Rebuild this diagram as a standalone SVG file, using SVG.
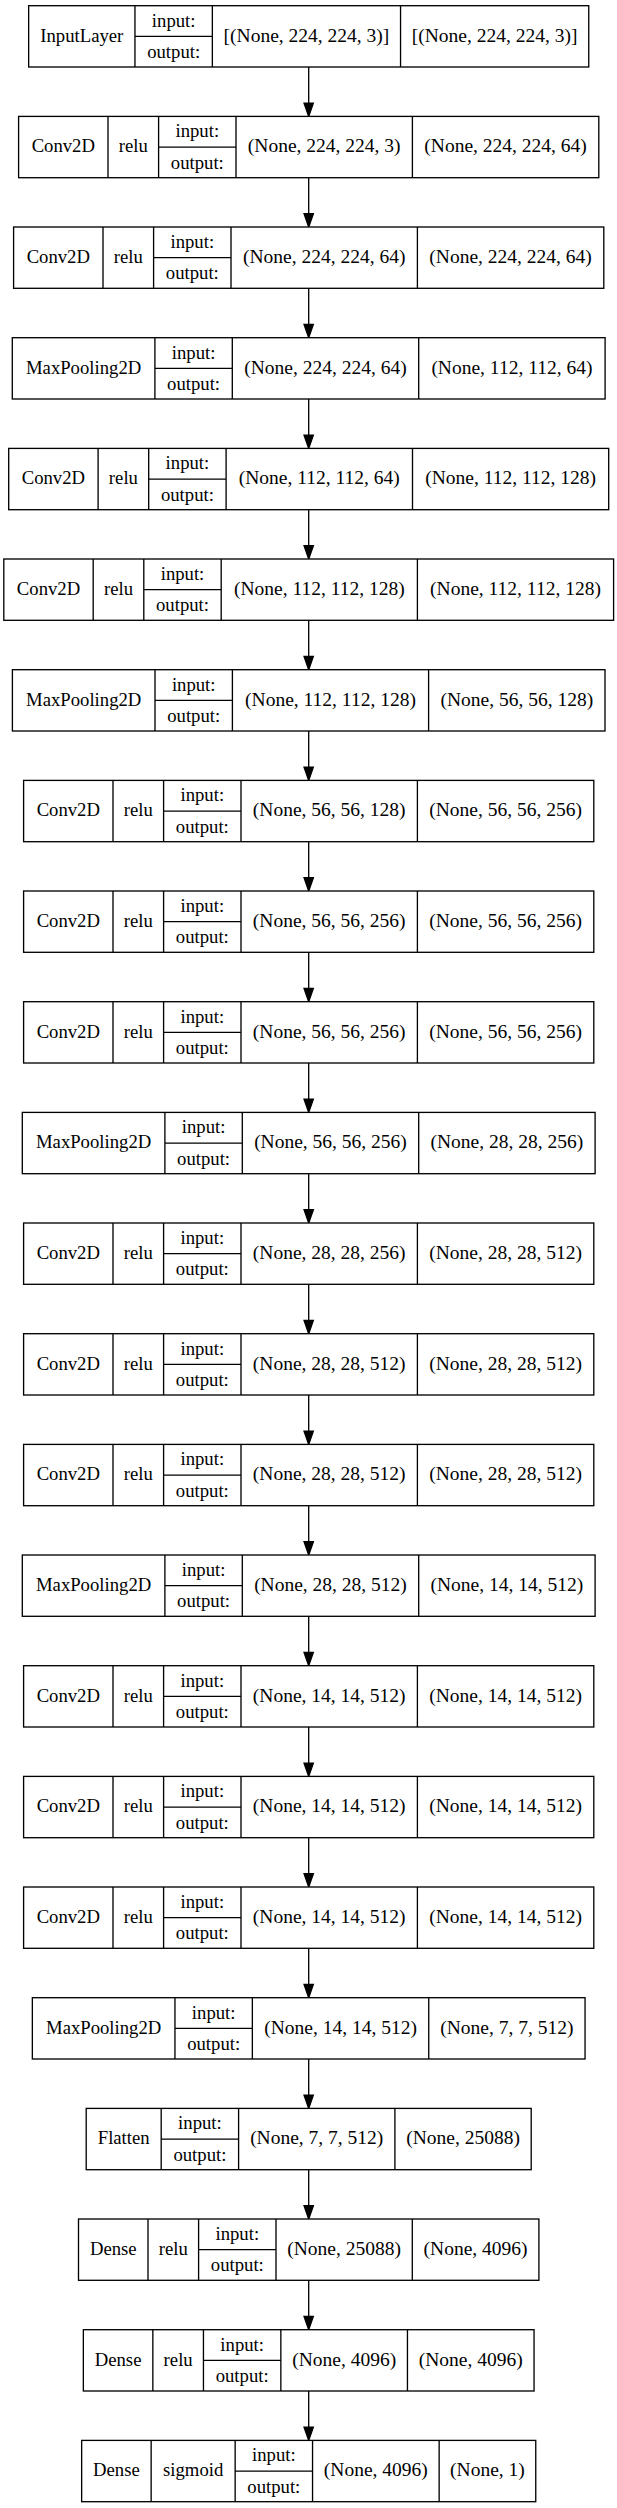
<svg xmlns="http://www.w3.org/2000/svg" width="617" height="2508" viewBox="0 0 617 2508">
<style>
.b{fill:#fff;stroke:#000;stroke-width:1.33}
.d{fill:none;stroke:#000;stroke-width:1.33}
.e{fill:none;stroke:#000;stroke-width:1.33}
text{font-family:"Liberation Serif","Times New Roman",serif;font-size:18.7px;text-anchor:middle;fill:#000}
text.s{font-size:19.5px}
</style>
<defs>
<marker id="ah" markerUnits="userSpaceOnUse" markerWidth="16" markerHeight="12" refX="0" refY="4.67" orient="auto" overflow="visible"><path d="M0,0L13.3,4.67L0,9.33z" fill="#000" stroke="#000" stroke-width="1.33"/></marker>
</defs>
<rect width="617" height="2508" fill="#fff"/>
<g id="connectors">
<line class="e" x1="308.7" y1="67.0" x2="308.7" y2="103.1" marker-end="url(#ah)"/>
<line class="e" x1="308.7" y1="177.7" x2="308.7" y2="213.7" marker-end="url(#ah)"/>
<line class="e" x1="308.7" y1="288.3" x2="308.7" y2="324.4" marker-end="url(#ah)"/>
<line class="e" x1="308.7" y1="399.0" x2="308.7" y2="435.1" marker-end="url(#ah)"/>
<line class="e" x1="308.7" y1="509.7" x2="308.7" y2="545.7" marker-end="url(#ah)"/>
<line class="e" x1="308.7" y1="620.3" x2="308.7" y2="656.4" marker-end="url(#ah)"/>
<line class="e" x1="308.7" y1="731.0" x2="308.7" y2="767.1" marker-end="url(#ah)"/>
<line class="e" x1="308.7" y1="841.7" x2="308.7" y2="877.7" marker-end="url(#ah)"/>
<line class="e" x1="308.7" y1="952.3" x2="308.7" y2="988.4" marker-end="url(#ah)"/>
<line class="e" x1="308.7" y1="1063.0" x2="308.7" y2="1099.1" marker-end="url(#ah)"/>
<line class="e" x1="308.7" y1="1173.7" x2="308.7" y2="1209.7" marker-end="url(#ah)"/>
<line class="e" x1="308.7" y1="1284.3" x2="308.7" y2="1320.4" marker-end="url(#ah)"/>
<line class="e" x1="308.7" y1="1395.0" x2="308.7" y2="1431.1" marker-end="url(#ah)"/>
<line class="e" x1="308.7" y1="1505.7" x2="308.7" y2="1541.7" marker-end="url(#ah)"/>
<line class="e" x1="308.7" y1="1616.3" x2="308.7" y2="1652.4" marker-end="url(#ah)"/>
<line class="e" x1="308.7" y1="1727.0" x2="308.7" y2="1763.1" marker-end="url(#ah)"/>
<line class="e" x1="308.7" y1="1837.7" x2="308.7" y2="1873.7" marker-end="url(#ah)"/>
<line class="e" x1="308.7" y1="1948.3" x2="308.7" y2="1984.4" marker-end="url(#ah)"/>
<line class="e" x1="308.7" y1="2059.0" x2="308.7" y2="2095.1" marker-end="url(#ah)"/>
<line class="e" x1="308.7" y1="2169.7" x2="308.7" y2="2205.7" marker-end="url(#ah)"/>
<line class="e" x1="308.7" y1="2280.3" x2="308.7" y2="2316.4" marker-end="url(#ah)"/>
<line class="e" x1="308.7" y1="2391.0" x2="308.7" y2="2427.1" marker-end="url(#ah)"/>
</g>

<g id="n1" transform="translate(0,5.7)">
<rect class="b" x="28.65" y="0" width="560.1" height="61.3"/>
<path class="d" d="M134.95,0V61.3M212.35,0V61.3M134.95,30.65H212.35M400.55,0V61.3"/>
<text x="81.8" y="36">InputLayer</text>
<text x="173.65" y="21">input:</text><text x="173.65" y="52.3">output:</text>
<text class="s" x="306.45" y="36">[(None, 224, 224, 3)]</text>
<text class="s" x="494.65" y="36">[(None, 224, 224, 3)]</text>
</g>

<g id="n2" transform="translate(0,116.4)">
<rect class="b" x="18.6" y="0" width="580.2" height="61.3"/>
<path class="d" d="M108,0V61.3M158.6,0V61.3M236,0V61.3M158.6,30.65H236M412.4,0V61.3"/>
<text x="63.3" y="36">Conv2D</text><text x="133.3" y="36">relu</text>
<text x="197.3" y="21">input:</text><text x="197.3" y="52.3">output:</text>
<text class="s" x="324.2" y="36">(None, 224, 224, 3)</text>
<text class="s" x="505.6" y="36">(None, 224, 224, 64)</text>
</g>

<g id="n3" transform="translate(0,227.0)">
<rect class="b" x="13.6" y="0" width="590.2" height="61.3"/>
<path class="d" d="M103,0V61.3M153.6,0V61.3M231,0V61.3M153.6,30.65H231M417.4,0V61.3"/>
<text x="58.3" y="36">Conv2D</text><text x="128.3" y="36">relu</text>
<text x="192.3" y="21">input:</text><text x="192.3" y="52.3">output:</text>
<text class="s" x="324.2" y="36">(None, 224, 224, 64)</text>
<text class="s" x="510.6" y="36">(None, 224, 224, 64)</text>
</g>

<g id="n4" transform="translate(0,337.7)">
<rect class="b" x="12.3" y="0" width="592.8" height="61.3"/>
<path class="d" d="M154.9,0V61.3M232.3,0V61.3M154.9,30.65H232.3M418.7,0V61.3"/>
<text x="83.6" y="36">MaxPooling2D</text>
<text x="193.6" y="21">input:</text><text x="193.6" y="52.3">output:</text>
<text class="s" x="325.5" y="36">(None, 224, 224, 64)</text>
<text class="s" x="511.9" y="36">(None, 112, 112, 64)</text>
</g>

<g id="n5" transform="translate(0,448.4)">
<rect class="b" x="8.7" y="0" width="600" height="61.3"/>
<path class="d" d="M98.1,0V61.3M148.7,0V61.3M226.1,0V61.3M148.7,30.65H226.1M412.5,0V61.3"/>
<text x="53.4" y="36">Conv2D</text><text x="123.4" y="36">relu</text>
<text x="187.4" y="21">input:</text><text x="187.4" y="52.3">output:</text>
<text class="s" x="319.3" y="36">(None, 112, 112, 64)</text>
<text class="s" x="510.6" y="36">(None, 112, 112, 128)</text>
</g>

<g id="n6" transform="translate(0,559.0)">
<rect class="b" x="3.8" y="0" width="609.8" height="61.3"/>
<path class="d" d="M93.2,0V61.3M143.8,0V61.3M221.2,0V61.3M143.8,30.65H221.2M417.4,0V61.3"/>
<text x="48.5" y="36">Conv2D</text><text x="118.5" y="36">relu</text>
<text x="182.5" y="21">input:</text><text x="182.5" y="52.3">output:</text>
<text class="s" x="319.3" y="36">(None, 112, 112, 128)</text>
<text class="s" x="515.5" y="36">(None, 112, 112, 128)</text>
</g>

<g id="n7" transform="translate(0,669.7)">
<rect class="b" x="12.4" y="0" width="592.6" height="61.3"/>
<path class="d" d="M155,0V61.3M232.4,0V61.3M155,30.65H232.4M428.6,0V61.3"/>
<text x="83.7" y="36">MaxPooling2D</text>
<text x="193.7" y="21">input:</text><text x="193.7" y="52.3">output:</text>
<text class="s" x="330.5" y="36">(None, 112, 112, 128)</text>
<text class="s" x="516.8" y="36">(None, 56, 56, 128)</text>
</g>

<g id="n8" transform="translate(0,780.4)">
<rect class="b" x="23.6" y="0" width="570.2" height="61.3"/>
<path class="d" d="M113,0V61.3M163.6,0V61.3M241,0V61.3M163.6,30.65H241M417.4,0V61.3"/>
<text x="68.3" y="36">Conv2D</text><text x="138.3" y="36">relu</text>
<text x="202.3" y="21">input:</text><text x="202.3" y="52.3">output:</text>
<text class="s" x="329.2" y="36">(None, 56, 56, 128)</text>
<text class="s" x="505.6" y="36">(None, 56, 56, 256)</text>
</g>

<g id="n9" transform="translate(0,891.0)">
<rect class="b" x="23.6" y="0" width="570.2" height="61.3"/>
<path class="d" d="M113,0V61.3M163.6,0V61.3M241,0V61.3M163.6,30.65H241M417.4,0V61.3"/>
<text x="68.3" y="36">Conv2D</text><text x="138.3" y="36">relu</text>
<text x="202.3" y="21">input:</text><text x="202.3" y="52.3">output:</text>
<text class="s" x="329.2" y="36">(None, 56, 56, 256)</text>
<text class="s" x="505.6" y="36">(None, 56, 56, 256)</text>
</g>

<g id="n10" transform="translate(0,1001.7)">
<rect class="b" x="23.6" y="0" width="570.2" height="61.3"/>
<path class="d" d="M113,0V61.3M163.6,0V61.3M241,0V61.3M163.6,30.65H241M417.4,0V61.3"/>
<text x="68.3" y="36">Conv2D</text><text x="138.3" y="36">relu</text>
<text x="202.3" y="21">input:</text><text x="202.3" y="52.3">output:</text>
<text class="s" x="329.2" y="36">(None, 56, 56, 256)</text>
<text class="s" x="505.6" y="36">(None, 56, 56, 256)</text>
</g>

<g id="n11" transform="translate(0,1112.4)">
<rect class="b" x="22.3" y="0" width="572.8" height="61.3"/>
<path class="d" d="M164.9,0V61.3M242.3,0V61.3M164.9,30.65H242.3M418.7,0V61.3"/>
<text x="93.6" y="36">MaxPooling2D</text>
<text x="203.6" y="21">input:</text><text x="203.6" y="52.3">output:</text>
<text class="s" x="330.5" y="36">(None, 56, 56, 256)</text>
<text class="s" x="506.9" y="36">(None, 28, 28, 256)</text>
</g>

<g id="n12" transform="translate(0,1223.0)">
<rect class="b" x="23.6" y="0" width="570.2" height="61.3"/>
<path class="d" d="M113,0V61.3M163.6,0V61.3M241,0V61.3M163.6,30.65H241M417.4,0V61.3"/>
<text x="68.3" y="36">Conv2D</text><text x="138.3" y="36">relu</text>
<text x="202.3" y="21">input:</text><text x="202.3" y="52.3">output:</text>
<text class="s" x="329.2" y="36">(None, 28, 28, 256)</text>
<text class="s" x="505.6" y="36">(None, 28, 28, 512)</text>
</g>

<g id="n13" transform="translate(0,1333.7)">
<rect class="b" x="23.6" y="0" width="570.2" height="61.3"/>
<path class="d" d="M113,0V61.3M163.6,0V61.3M241,0V61.3M163.6,30.65H241M417.4,0V61.3"/>
<text x="68.3" y="36">Conv2D</text><text x="138.3" y="36">relu</text>
<text x="202.3" y="21">input:</text><text x="202.3" y="52.3">output:</text>
<text class="s" x="329.2" y="36">(None, 28, 28, 512)</text>
<text class="s" x="505.6" y="36">(None, 28, 28, 512)</text>
</g>

<g id="n14" transform="translate(0,1444.4)">
<rect class="b" x="23.6" y="0" width="570.2" height="61.3"/>
<path class="d" d="M113,0V61.3M163.6,0V61.3M241,0V61.3M163.6,30.65H241M417.4,0V61.3"/>
<text x="68.3" y="36">Conv2D</text><text x="138.3" y="36">relu</text>
<text x="202.3" y="21">input:</text><text x="202.3" y="52.3">output:</text>
<text class="s" x="329.2" y="36">(None, 28, 28, 512)</text>
<text class="s" x="505.6" y="36">(None, 28, 28, 512)</text>
</g>

<g id="n15" transform="translate(0,1555.0)">
<rect class="b" x="22.3" y="0" width="572.8" height="61.3"/>
<path class="d" d="M164.9,0V61.3M242.3,0V61.3M164.9,30.65H242.3M418.7,0V61.3"/>
<text x="93.6" y="36">MaxPooling2D</text>
<text x="203.6" y="21">input:</text><text x="203.6" y="52.3">output:</text>
<text class="s" x="330.5" y="36">(None, 28, 28, 512)</text>
<text class="s" x="506.9" y="36">(None, 14, 14, 512)</text>
</g>

<g id="n16" transform="translate(0,1665.7)">
<rect class="b" x="23.6" y="0" width="570.2" height="61.3"/>
<path class="d" d="M113,0V61.3M163.6,0V61.3M241,0V61.3M163.6,30.65H241M417.4,0V61.3"/>
<text x="68.3" y="36">Conv2D</text><text x="138.3" y="36">relu</text>
<text x="202.3" y="21">input:</text><text x="202.3" y="52.3">output:</text>
<text class="s" x="329.2" y="36">(None, 14, 14, 512)</text>
<text class="s" x="505.6" y="36">(None, 14, 14, 512)</text>
</g>

<g id="n17" transform="translate(0,1776.4)">
<rect class="b" x="23.6" y="0" width="570.2" height="61.3"/>
<path class="d" d="M113,0V61.3M163.6,0V61.3M241,0V61.3M163.6,30.65H241M417.4,0V61.3"/>
<text x="68.3" y="36">Conv2D</text><text x="138.3" y="36">relu</text>
<text x="202.3" y="21">input:</text><text x="202.3" y="52.3">output:</text>
<text class="s" x="329.2" y="36">(None, 14, 14, 512)</text>
<text class="s" x="505.6" y="36">(None, 14, 14, 512)</text>
</g>

<g id="n18" transform="translate(0,1887.0)">
<rect class="b" x="23.6" y="0" width="570.2" height="61.3"/>
<path class="d" d="M113,0V61.3M163.6,0V61.3M241,0V61.3M163.6,30.65H241M417.4,0V61.3"/>
<text x="68.3" y="36">Conv2D</text><text x="138.3" y="36">relu</text>
<text x="202.3" y="21">input:</text><text x="202.3" y="52.3">output:</text>
<text class="s" x="329.2" y="36">(None, 14, 14, 512)</text>
<text class="s" x="505.6" y="36">(None, 14, 14, 512)</text>
</g>

<g id="n19" transform="translate(0,1997.7)">
<rect class="b" x="32.35" y="0" width="552.7" height="61.3"/>
<path class="d" d="M174.95,0V61.3M252.35,0V61.3M174.95,30.65H252.35M428.75,0V61.3"/>
<text x="103.65" y="36">MaxPooling2D</text>
<text x="213.65" y="21">input:</text><text x="213.65" y="52.3">output:</text>
<text class="s" x="340.55" y="36">(None, 14, 14, 512)</text>
<text class="s" x="506.9" y="36">(None, 7, 7, 512)</text>
</g>

<g id="n20" transform="translate(0,2108.4)">
<rect class="b" x="86.2" y="0" width="445" height="61.3"/>
<path class="d" d="M161.2,0V61.3M238.6,0V61.3M161.2,30.65H238.6M394.9,0V61.3"/>
<text x="123.7" y="36">Flatten</text>
<text x="199.9" y="21">input:</text><text x="199.9" y="52.3">output:</text>
<text class="s" x="316.75" y="36">(None, 7, 7, 512)</text>
<text class="s" x="463.05" y="36">(None, 25088)</text>
</g>

<g id="n21" transform="translate(0,2219.0)">
<rect class="b" x="78.5" y="0" width="460.4" height="61.3"/>
<path class="d" d="M148,0V61.3M198.6,0V61.3M276,0V61.3M198.6,30.65H276M412.3,0V61.3"/>
<text x="113.25" y="36">Dense</text><text x="173.3" y="36">relu</text>
<text x="237.3" y="21">input:</text><text x="237.3" y="52.3">output:</text>
<text class="s" x="344.15" y="36">(None, 25088)</text>
<text class="s" x="475.6" y="36">(None, 4096)</text>
</g>

<g id="n22" transform="translate(0,2329.7)">
<rect class="b" x="83.35" y="0" width="450.7" height="61.3"/>
<path class="d" d="M152.85,0V61.3M203.45,0V61.3M280.85,0V61.3M203.45,30.65H280.85M407.45,0V61.3"/>
<text x="118.1" y="36">Dense</text><text x="178.15" y="36">relu</text>
<text x="242.15" y="21">input:</text><text x="242.15" y="52.3">output:</text>
<text class="s" x="344.15" y="36">(None, 4096)</text>
<text class="s" x="470.75" y="36">(None, 4096)</text>
</g>

<g id="n23" transform="translate(0,2440.4)">
<rect class="b" x="81.65" y="0" width="454.1" height="61.3"/>
<path class="d" d="M151.15,0V61.3M235.15,0V61.3M312.55,0V61.3M235.15,30.65H312.55M439.15,0V61.3"/>
<text x="116.4" y="36">Dense</text><text x="193.15" y="36">sigmoid</text>
<text x="273.85" y="21">input:</text><text x="273.85" y="52.3">output:</text>
<text class="s" x="375.85" y="36">(None, 4096)</text>
<text class="s" x="487.45" y="36">(None, 1)</text>
</g>
</svg>
